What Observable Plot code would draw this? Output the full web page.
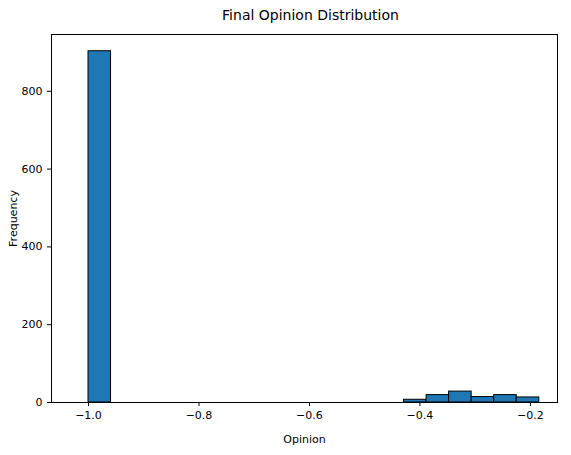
<!DOCTYPE html>
<html><head><meta charset="utf-8">
<script src="https://cdn.jsdelivr.net/npm/d3@7"></script>
<script src="https://cdn.jsdelivr.net/npm/@observablehq/plot@0.6"></script>
<style>
body{margin:0;background:#fff;font-family:"DejaVu Sans",sans-serif}
#title{height:26px;line-height:26px;padding-top:2px;box-sizing:border-box;text-align:center;font-size:14px;padding-left:50px;color:#000}
</style></head>
<body>
<div id="title">Final Opinion Distribution</div>
<div id="chart"></div>
<script>
// histogram bins (20 bins from -1.0 to -0.184)
const binStart = -1.0
const binEnd = -0.184
const counts = [903,0,0,0,0,0,0,0,0,0,0,0,0,0,7,19,28,14,19,13]
const xTicks = [-1.0,-0.8,-0.6,-0.4,-0.2]
const yTicks = [0,200,400,600,800]

const w = (binEnd - binStart) / counts.length
const bins = counts.map((c, i) => ({x1: binStart + i*w, x2: binStart + (i+1)*w, n: c}))

let chart = Plot.plot({
  width: 571, height: 429,
  marginTop: 8, marginBottom: 53, marginLeft: 51, marginRight: 14,
  style: {fontFamily: "DejaVu Sans", fontSize: "10px", color: "#000"},
  x: {domain: [-1.067, -0.151], ticks: xTicks, tickFormat: d => d.toFixed(1).replace("-", "\u2212"), label: "Opinion", labelAnchor: "center", labelArrow: "none", labelOffset: 40, tickSize: 4},
  y: {domain: [0, 946], ticks: yTicks, label: "Frequency", labelAnchor: "center", labelArrow: "none", labelOffset: 42, tickSize: 4},
  marks: [
    Plot.rectY(bins.filter(d => d.n > 0), {x1: "x1", x2: "x2", y: "n", fill: "#1f77b4", stroke: "#000", strokeWidth: 1}),
    Plot.frame({stroke: "#000"})
  ]
})
d3.select('#chart').append(() => chart)
d3.select(chart).selectAll('text').style('font-size', '11px')
</script>
</body></html>
